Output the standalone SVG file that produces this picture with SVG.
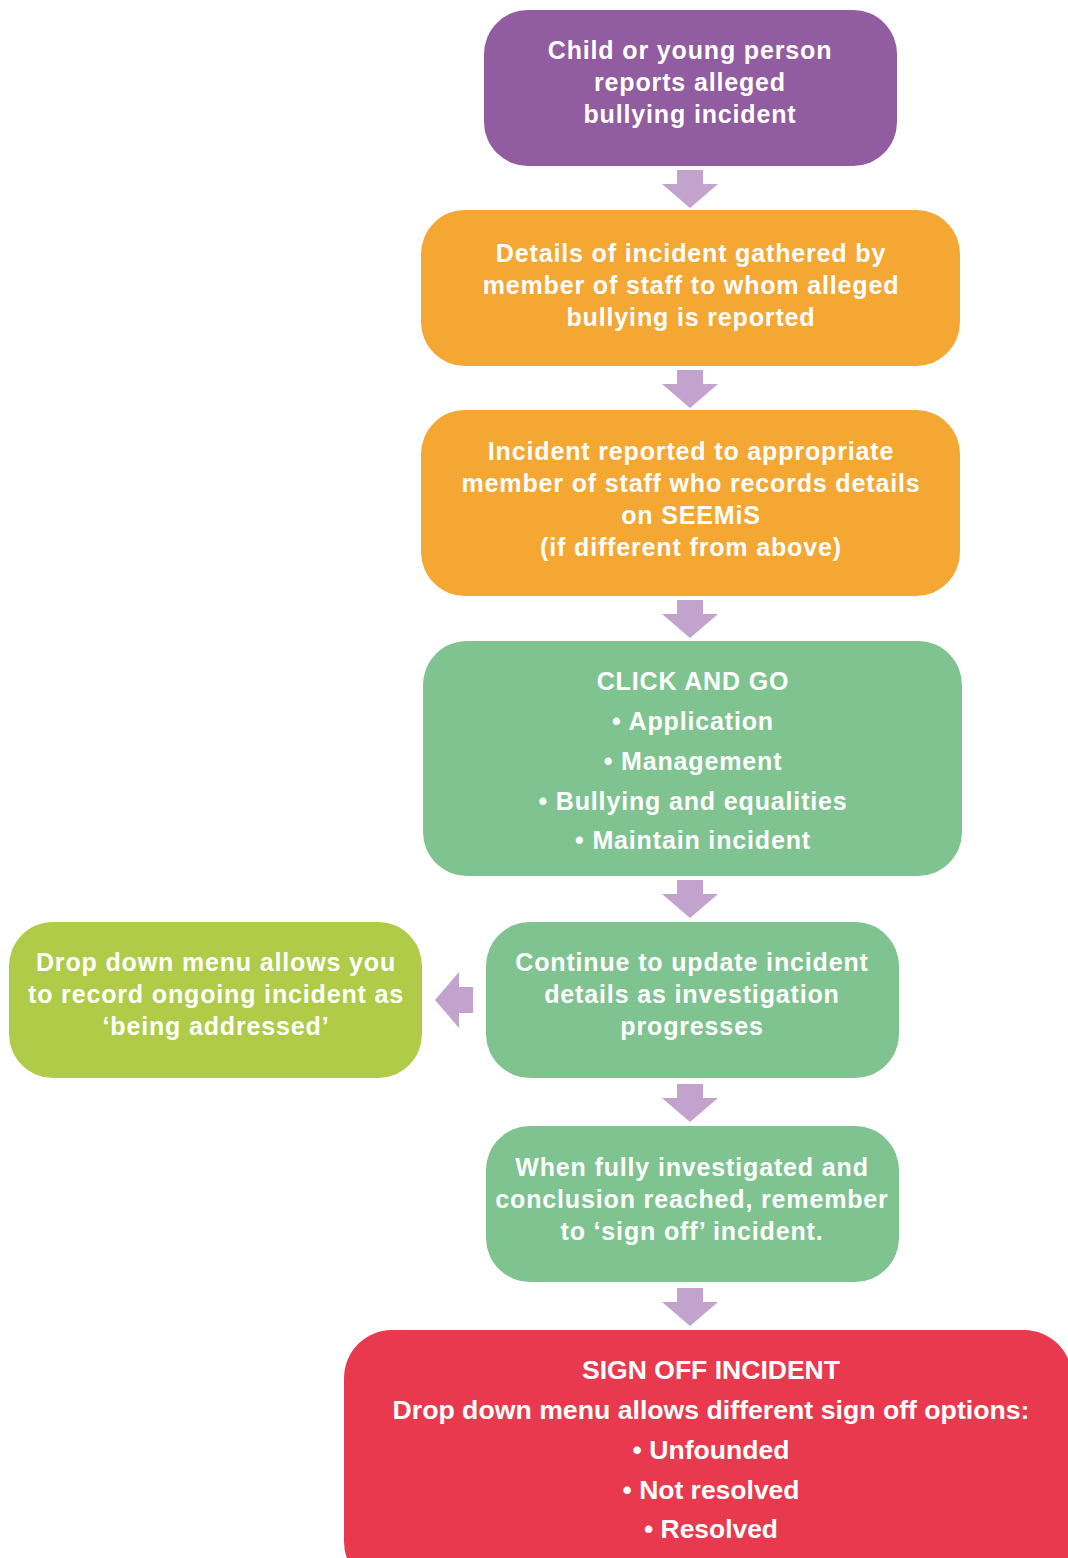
<svg xmlns="http://www.w3.org/2000/svg" width="1068" height="1558" viewBox="0 0 1068 1558">
<style>
.t{font-family:"Liberation Sans",Arial,sans-serif;font-weight:bold;font-size:25px;fill:#fff;text-anchor:middle;letter-spacing:0.85px}
.n{font-family:"Liberation Sans",Arial,sans-serif;font-weight:bold;font-size:26px;fill:#fff;text-anchor:middle}
.a{fill:#C3A3CE}
</style>
<defs>
<path id="dn" d="M-13,0 H13 V14 H28 L0,38 L-28,14 H-13 Z"/>
</defs>
<rect width="1068" height="1558" fill="#fff"/>
<g id="connectors">
<use href="#dn" class="a" x="690" y="170"/>
<use href="#dn" class="a" x="690" y="370"/>
<use href="#dn" class="a" x="690" y="600"/>
<use href="#dn" class="a" x="690" y="880"/>
<use href="#dn" class="a" x="690" y="1084"/>
<use href="#dn" class="a" x="690" y="1288"/>
<path class="a" d="M473,987 V1013 H459 V1028 L435,1000 L459,972 V987 Z"/>
</g>
<g id="n1">
<rect x="484" y="10" width="413" height="156" rx="44" fill="#915CA0"/>
<text class="t" x="690" y="59">Child or young person</text>
<text class="t" x="690" y="91">reports alleged</text>
<text class="t" x="690" y="123">bullying incident</text>
</g>
<g id="n2">
<rect x="421" y="210" width="539" height="156" rx="44" fill="#F5A733"/>
<text class="t" x="691" y="262">Details of incident gathered by</text>
<text class="t" x="691" y="294">member of staff to whom alleged</text>
<text class="t" x="691" y="326">bullying is reported</text>
</g>
<g id="n3">
<rect x="421" y="410" width="539" height="186" rx="44" fill="#F5A733"/>
<text class="t" x="691" y="460">Incident reported to appropriate</text>
<text class="t" x="691" y="492">member of staff who records details</text>
<text class="t" x="691" y="524">on SEEMiS</text>
<text class="t" x="691" y="556">(if different from above)</text>
</g>
<g id="n4">
<rect x="423" y="641" width="539" height="235" rx="44" fill="#7FC391"/>
<text class="t" x="693" y="690">CLICK AND GO</text>
<text class="t" x="693" y="730">• Application</text>
<text class="t" x="693" y="770">• Management</text>
<text class="t" x="693" y="810">• Bullying and equalities</text>
<text class="t" x="693" y="849">• Maintain incident</text>
</g>
<g id="n5">
<rect x="486" y="922" width="413" height="156" rx="44" fill="#7FC391"/>
<text class="t" x="692" y="971">Continue to update incident</text>
<text class="t" x="692" y="1003">details as investigation</text>
<text class="t" x="692" y="1035">progresses</text>
</g>
<g id="n5b">
<rect x="9" y="922" width="413" height="156" rx="44" fill="#AFCB48"/>
<text class="t" x="216" y="971">Drop down menu allows you</text>
<text class="t" x="216" y="1003">to record ongoing incident as</text>
<text class="t" x="216" y="1035">‘being addressed’</text>
</g>
<g id="n6">
<rect x="486" y="1126" width="413" height="156" rx="44" fill="#7FC391"/>
<text class="t" x="692" y="1176">When fully investigated and</text>
<text class="t" x="692" y="1208">conclusion reached, remember</text>
<text class="t" x="692" y="1240">to ‘sign off’ incident.</text>
</g>
<g id="n7">
<rect x="344" y="1330" width="728" height="260" rx="48" fill="#E8394E"/>
<text class="n" x="711" y="1379" textLength="258" lengthAdjust="spacingAndGlyphs">SIGN OFF INCIDENT</text>
<text class="n" x="711" y="1419" textLength="637" lengthAdjust="spacingAndGlyphs">Drop down menu allows different sign off options:</text>
<text class="n" x="711" y="1459" textLength="157" lengthAdjust="spacingAndGlyphs">• Unfounded</text>
<text class="n" x="711" y="1499" textLength="177" lengthAdjust="spacingAndGlyphs">• Not resolved</text>
<text class="n" x="711" y="1538" textLength="134" lengthAdjust="spacingAndGlyphs">• Resolved</text>
</g>
</svg>
